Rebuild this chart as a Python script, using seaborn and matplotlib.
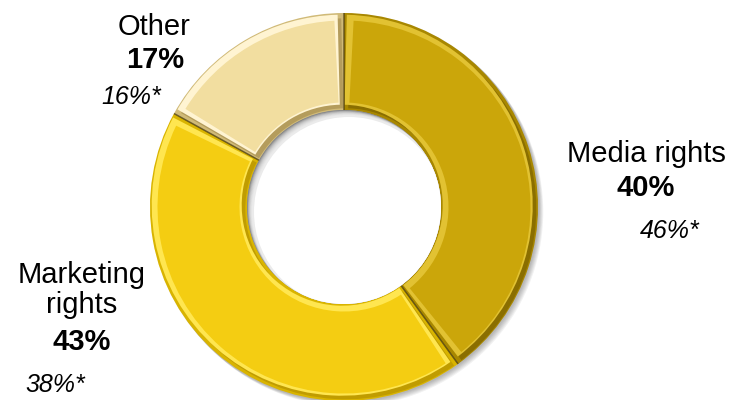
import numpy as np
import matplotlib
matplotlib.use("Agg")
import matplotlib.pyplot as plt
from matplotlib.patches import Wedge, Circle
import seaborn as sns

# Revenue split by source
categories = ["Media rights", "Marketing\nrights", "Other"]
shares = [40, 43, 17]          # current period, %
prior_shares = [46, 38, 16]    # comparison period, % (marked with *)

face_colors = ["#CBA60A", "#F4CD12", "#F2DEA0"]
edge_colors = ["#A88700", "#D9B400", "#D0BA78"]
dark_colors = ["#8A6E00", "#C09C00", "#B49C5C"]
light_colors = ["#E2C232", "#FFE650", "#FFF4D2"]

sns.set_theme(style="white")
plt.rcParams["font.family"] = ["Liberation Sans", "DejaVu Sans"]

W, H = 729, 400
fig = plt.figure(figsize=(W / 100, H / 100), dpi=100)
ax = fig.add_axes([0, 0, 1, 1])

cx, cy = 344, H - 207
R_out, ring = 194, 97
R_in = R_out - ring
R_mid = (R_out + R_in) / 2

# soft drop shadow behind the ring
for d in range(1, 7):
    ax.add_patch(Circle((cx + d * 0.8, cy - d * 0.8), R_out + 0.5,
                        color="#000000", alpha=0.05, lw=0, zorder=0))

wedges, _ = ax.pie(shares, startangle=90, counterclock=False,
                   radius=R_out, center=(cx, cy), colors=edge_colors,
                   wedgeprops=dict(width=ring, linewidth=0))
for w in wedges:
    w.set_zorder(1)


def inset_wedge(t1, t2, inset, shift, color, z):
    dt = np.degrees(inset / R_mid)
    ax.add_patch(Wedge((cx + shift, cy - shift), R_out - inset,
                       t1 + dt, t2 - dt, width=ring - 2 * inset,
                       color=color, lw=0, zorder=z))


# bevelled face of each segment, lit from the upper left
for w, fc, dc, lc in zip(wedges, face_colors, dark_colors, light_colors):
    t1, t2 = w.theta1, w.theta2
    inset_wedge(t1, t2, 3.5, 1.8, dc, 2)
    inset_wedge(t1, t2, 3.5, -1.8, lc, 3)
    inset_wedge(t1, t2, 7.5, 0.0, fc, 4)

# dark seams between segments
for w in wedges:
    a = np.radians(w.theta1)
    ax.plot([cx + R_in * np.cos(a), cx + R_out * np.cos(a)],
            [cy + R_in * np.sin(a), cy + R_out * np.sin(a)],
            color="#4A3C10", lw=1.1, alpha=0.75, zorder=5,
            solid_capstyle="butt")

# hole with inner shadow on its upper-left edge
hole = Circle((cx, cy), R_in, color="#7A7A7A", lw=0, zorder=6)
ax.add_patch(hole)
for d in np.linspace(7, 0.5, 8):
    c = Circle((cx + d * 0.7, cy - d * 0.7), R_in, color="white",
               alpha=0.22, lw=0, zorder=7)
    ax.add_patch(c)
    c.set_clip_path(hole)
c = Circle((cx + 5, cy - 5), R_in - 2, color="white", lw=0, zorder=8)
ax.add_patch(c)
c.set_clip_path(hole)

# labels: name, share (bold), comparison share (italic)
name_pos = [(646, 162), (82, 283), (154, 35)]
share_pos = [(646, 196), (82, 350), (155, 68)]
prior_pos = [(670, 238), (55, 392), (131, 104)]
line_step = 30
for i, name in enumerate(categories):
    x, y = name_pos[i]
    for k, line in enumerate(name.split("\n")):
        ax.text(x, H - (y + k * line_step), line, ha="center",
                va="baseline", fontsize=21, color="black")
    x, y = share_pos[i]
    ax.text(x, H - y, f"{shares[i]}%", ha="center", va="baseline",
            fontsize=21, fontweight="bold", color="black")
    x, y = prior_pos[i]
    ax.text(x, H - y, f"{prior_shares[i]}%*", ha="center", va="baseline",
            fontsize=18, fontstyle="italic", color="black")

ax.set_xlim(0, W)
ax.set_ylim(0, H)
ax.set_aspect("equal")
ax.axis("off")
fig.savefig("out.png", dpi=100, facecolor="white")
